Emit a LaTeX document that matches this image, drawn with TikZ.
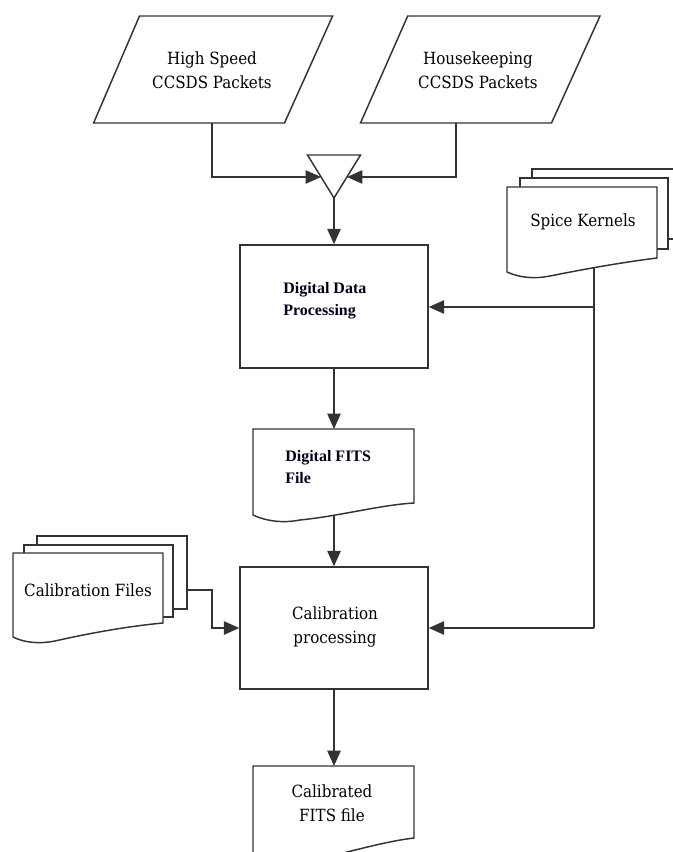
\documentclass[tikz,border=0pt]{standalone}
\usepackage{fontspec}
\setmainfont{DejaVu Serif Condensed}
\newfontfamily\boldserif{Liberation Serif}
\usetikzlibrary{arrows.meta,calc}
\begin{document}
\begin{tikzpicture}[x=0.75pt,y=-0.75pt,
  ln/.style={draw=black!80, line width=1.1pt},
  arr/.style={ln, -{Triangle[length=11.5pt,width=10pt]}},
  shp/.style={ln, fill=white, line join=miter},
  proc/.style={ln, minimum width=141pt, inner sep=0pt},
  lbl/.style={font=\fontsize{12.6}{18}\selectfont, align=center, inner sep=0pt},
  blbl/.style={font=\boldserif\bfseries\fontsize{12}{16.5}\selectfont, align=left, inner sep=0pt, text=black!90!blue}]
\useasboundingbox (0,0) rectangle (673,852);
\clip (0,0) rectangle (673,852);
\fill[white] (0,0) rectangle (673,852);

% input parallelograms
\draw[shp] (139.5,16) -- (332.6,16) -- (284.5,123) -- (93.6,123) -- cycle;
\node[lbl] (hs) at (212,70) {High Speed\\CCSDS Packets};
\coordinate (p1b) at (212,123);
\draw[shp] (407.7,16) -- (600,16) -- (551.5,123) -- (360.5,123) -- cycle;
\node[lbl] (hk) at (478,70) {Housekeeping\\CCSDS Packets};
\coordinate (p2b) at (456,123);

% merge triangle
\draw[shp] (307.5,155) -- (360.5,155) -- (334,198) -- cycle;
\coordinate (trl) at (321,177);
\coordinate (trr) at (347,177);
\coordinate (tra) at (334,198);

% Digital data processing
\node[proc, minimum height=92.25pt] (ddp) at (334,306.5) {};
\node[blbl, anchor=west] (ddpt) at (283,301) {Digital Data\\Processing};

% Spice kernels stack
\draw[shp] (532,169) rectangle (690,239);
\draw[shp] (520,178) rectangle (668,249);
\draw[shp] (657,258) -- (657,187) -- (507,187) -- (507,272)
  .. controls (520,278) and (535,279) .. (550,276)
  .. controls (590,268) and (625,262) .. (657,258) -- cycle;
\node[lbl] (sk) at (583,222) {Spice Kernels};
\coordinate (skb) at (594,268);
\coordinate (j1) at (594,307);
\coordinate (j2) at (594,628);

% Digital FITS file
\draw[shp] (414,503) -- (414,429) -- (253,429) -- (253,515)
  .. controls (268,522) and (285,523) .. (300,520)
  .. controls (340,516) and (380,505) .. (414,503) -- cycle;
\node[blbl, anchor=west] (dft) at (285,467) {Digital FITS\\File};
\coordinate (dtop) at (334,429);
\coordinate (dbot) at (334,516);

% Calibration processing
\node[proc, minimum height=91.5pt] (cal) at (334,628) {};
\node[lbl] (calt) at (335,627) {Calibration\\processing};

% Calibration files stack
\draw[shp] (37,536) rectangle (187,609);
\draw[shp] (24,545) rectangle (173,617);
\draw[shp] (163,623) -- (163,553) -- (13,553) -- (13,637)
  .. controls (25,643) and (40,644) .. (55,641)
  .. controls (90,633) and (130,626) .. (163,623) -- cycle;
\node[lbl] (cft) at (88,590) {Calibration Files};
\coordinate (cfout) at (187,590);
\coordinate (cfbend) at (212,590);

% Calibrated FITS file
\draw[shp] (414,838) -- (414,766) -- (253,766) -- (253,858)
  .. controls (268,865) and (285,866) .. (300,863)
  .. controls (340,855) and (380,842) .. (414,838) -- cycle;
\node[lbl] (cff) at (332,803) {Calibrated\\FITS file};
\coordinate (cftop) at (334,766);

% connectors
\draw[arr] (p1b) |- (trl);
\draw[arr] (p2b) |- (trr);
\draw[arr] (tra) -- (ddp.north);
\draw[ln] (skb) -- (j2);
\draw[arr] (j1) -- (j1 -| ddp.east);
\draw[arr] (ddp.south) -- (dtop);
\draw[arr] (dbot) -- (cal.north);
\draw[arr] (j2) -- (cal.east);
\draw[arr] (cfout) -- (cfbend) |- (cal.west);
\draw[arr] (cal.south) -- (cftop);
\end{tikzpicture}
\end{document}
